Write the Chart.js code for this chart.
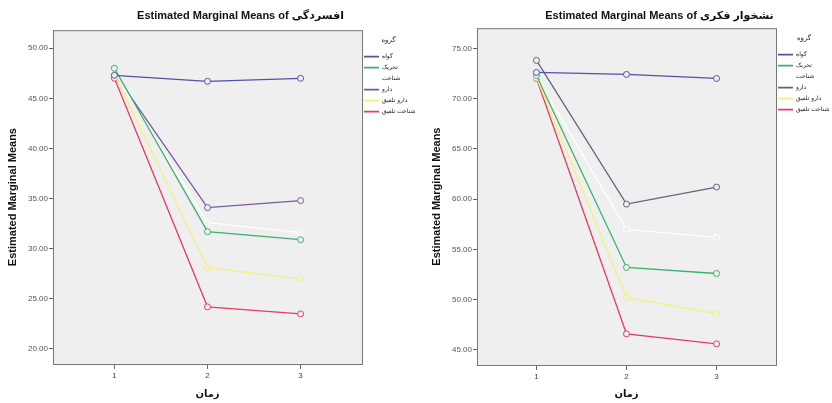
<!DOCTYPE html>
<html><head><meta charset="utf-8">
<script src="https://cdn.jsdelivr.net/npm/chart.js@4"></script>
<style>
body{margin:0;background:#fff;width:832px;height:403px;overflow:hidden;position:relative}
canvas{position:absolute;top:0}
</style></head><body>
<canvas id="c1" width="415" height="403" style="left:0"></canvas>
<canvas id="c2" width="417" height="403" style="left:415px"></canvas>
<script>
// ---- data ----
const times = [1, 2, 3];
const groups = ['گواه', 'تحریک', 'شناخت', 'دارو', 'دارو تلفیق', 'شناخت تلفیق'];

// Depression (افسردگی)
const depGavah          = [47.3, 46.7, 47.0];
const depTahrik         = [48.0, 31.7, 30.9];
const depShenakht       = [47.6, 32.6, 31.6];
const depDaru           = [47.5, 34.1, 34.8];
const depDaruTalfigh    = [47.4, 28.1, 27.0];
const depShenakhtTalfigh= [47.0, 24.2, 23.5];
const depTicks = [20, 25, 30, 35, 40, 45, 50];

// Rumination (نشخوار فکری)
const rumGavah          = [72.6, 72.4, 72.0];
const rumTahrik         = [72.3, 53.2, 52.6];
const rumShenakht       = [72.2, 57.0, 56.2];
const rumDaru           = [73.8, 59.5, 61.2];
const rumDaruTalfigh    = [72.1, 50.2, 48.6];
const rumShenakhtTalfigh= [72.0, 46.6, 45.6];
const rumTicks = [45, 50, 55, 60, 65, 70, 75];

const FONT = 'Arial, "Liberation Sans", "DejaVu Sans", sans-serif';
const PLOT_BG = '#efefef';

function makeChart(id, opts) {
  const series = opts.series;
  const colors = opts.colors;
  const datasets = series.map((vals, i) => ({
    label: groups[i],
    data: vals.map((v, j) => ({x: times[j], y: v})),
    borderColor: colors[i],
    backgroundColor: PLOT_BG,
    borderWidth: 1.3,
    pointRadius: 3,
    pointBorderWidth: 1,
    pointBackgroundColor: PLOT_BG,
    pointBorderColor: colors[i],
    tension: 0
  }));
  const plugin = {
    id: 'frame' + id,
    beforeLayout(chart) {
      const lg = chart.legend;
      if (lg && !lg._fixedWidth) {
        const orig = lg.fit.bind(lg);
        lg.fit = function () { orig(); this.width = opts.legendWidth; };
        lg._fixedWidth = true;
      }
    },
    afterLayout(chart) {
      chart.titleBlock.left += opts.titleShift;
      chart.titleBlock.right += opts.titleShift;
    },
    beforeDraw(chart) {
      const a = chart.chartArea, ctx = chart.ctx;
      ctx.save();
      ctx.fillStyle = PLOT_BG;
      ctx.fillRect(a.left, a.top, a.right - a.left, a.bottom - a.top);
      ctx.restore();
    },
    afterDraw(chart) {
      const a = chart.chartArea, ctx = chart.ctx;
      ctx.save();
      ctx.strokeStyle = '#777';
      ctx.lineWidth = 1;
      ctx.strokeRect(a.left + 0.5, a.top + 0.5, a.right - a.left, a.bottom - a.top);
      ctx.restore();
    }
  };
  return new Chart(document.getElementById(id), {
    type: 'line',
    data: {datasets},
    plugins: [plugin],
    options: {
      responsive: false,
      animation: false,
      layout: {padding: 0},
      plugins: {
        tooltip: {enabled: false},
        title: {
          display: true,
          text: opts.title,
          color: '#111',
          font: {family: FONT, size: 11, weight: 'bold'},
          padding: {top: opts.titleTop, bottom: opts.titleBottom}
        },
        legend: {
          position: 'right',
          align: 'start',
          fullSize: false,
          title: {display: true, text: 'گروه', color: '#222',
                  font: {family: FONT, size: 7}, padding: {top: 6, bottom: 7}},
          labels: {
            usePointStyle: true,
            pointStyle: 'line',
            pointStyleWidth: 15,
            boxHeight: 6,
            padding: 2,
            color: '#222',
            font: {family: FONT, size: 6, lineHeight: 1.5},
            generateLabels(chart) {
              return Chart.defaults.plugins.legend.labels.generateLabels(chart)
                .map((l, i) => Object.assign({}, l, {
                  text: [l.text],
                  strokeStyle: colors[i],
                  lineWidth: 1.7
                }));
            }
          }
        }
      },
      scales: {
        x: {
          type: 'linear',
          min: 0.34, max: 3.66,
          afterBuildTicks(s) { s.ticks = times.map(v => ({value: v})); },
          afterFit(s) { s.height = opts.xHeight; },
          ticks: {color: '#444', font: {family: FONT, size: 8}, padding: 2,
                  callback: v => String(v)},
          grid: {display: true, drawOnChartArea: false, drawTicks: true, tickLength: 5, color: '#666'},
          border: {display: true, color: '#777'},
          title: {display: true, text: 'زمان', color: '#111',
                  font: {family: FONT, size: 10, weight: 'bold'}, padding: {top: 0, bottom: 3}}
        },
        y: {
          min: opts.yMin, max: opts.yMax,
          afterBuildTicks(s) { s.ticks = opts.ticks.map(v => ({value: v})); },
          afterFit(s) { s.width = opts.yWidth; },
          ticks: {color: '#555', font: {family: FONT, size: 8}, padding: 1,
                  callback: v => Number(v).toFixed(2)},
          grid: {display: true, drawOnChartArea: false, drawTicks: true, tickLength: 4, color: '#666'},
          border: {display: true, color: '#777'},
          title: {display: true, text: 'Estimated Marginal Means', color: '#111',
                  font: {family: FONT, size: 11, weight: 'bold'}, padding: {top: opts.yTitlePad, bottom: 0}}
        }
      }
    }
  });
}

makeChart('c1', {
  series: [depGavah, depTahrik, depShenakht, depDaru, depDaruTalfigh, depShenakhtTalfigh],
  colors: ['#5252a8', '#3cb06c', '#ffffff', '#7a58a0', '#f2f27a', '#e83c64'],
  title: 'Estimated Marginal Means of افسردگی',
  titleShift: 33, titleTop: 9, titleBottom: 8,
  ticks: depTicks, yMin: 18.5, yMax: 51.8,
  yWidth: 53, yTitlePad: 6, xHeight: 39, legendWidth: 53
});

makeChart('c2', {
  series: [rumGavah, rumTahrik, rumShenakht, rumDaru, rumDaruTalfigh, rumShenakhtTalfigh],
  colors: ['#5252a8', '#3cb06c', '#ffffff', '#62627c', '#f2f27a', '#e83c64'],
  title: 'Estimated Marginal Means of نشخوار فکری',
  titleShift: 36, titleTop: 9, titleBottom: 6,
  ticks: rumTicks, yMin: 43.5, yMax: 77,
  yWidth: 62, yTitlePad: 15, xHeight: 38, legendWidth: 56
});
</script>
</body></html>
